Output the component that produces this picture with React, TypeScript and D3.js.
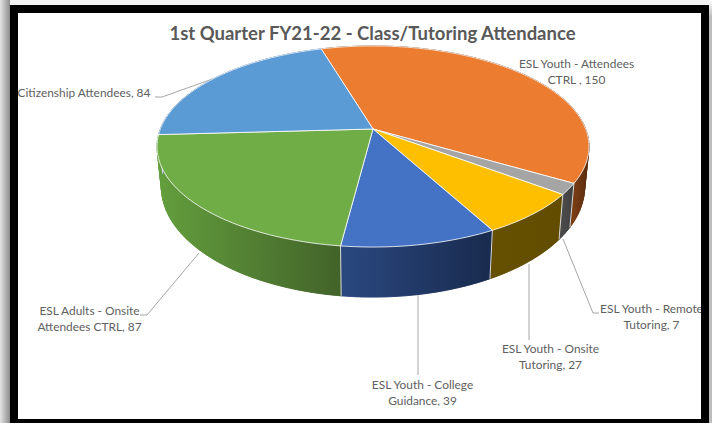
import React from "react"
import * as d3 from "d3"

const categories = [
    "ESL Youth - Attendees CTRL ",
    "ESL Youth - Remote Tutoring",
    "ESL Youth - Onsite Tutoring",
    "ESL Youth - College Guidance",
    "ESL Adults - Onsite Attendees CTRL",
    "Citizenship Attendees",
]
const values = [150, 7, 27, 39, 87, 84]
const title = "1st Quarter FY21-22 - Class/Tutoring Attendance"

const topColors = ["#ec7c30", "#a5a5a5", "#fdbf00", "#4472c4", "#70ad47", "#5b9bd5"]
const sideLeft = ["#7a3d14", "#4a4a4a", "#665000", "#2a4880", "#639e3d", "#3a6a9a"]
const sideRight = ["#5e2e10", "#404040", "#614c00", "#192b4e", "#426329", "#3a6a9a"]

// label layout: anchor x, first baseline, how many words go on line one
const labelX = [576.5, 651.5, 550.5, 422.5, 89.5, 84]
const labelY = [68, 313, 353, 389, 315, 97]
const labelBreak = [4, 4, 4, 4, 4, 99]

// leader lines, drawn as polylines
const leaders = [
    [[155, 97], [162, 97], [218, 77]],
    [[140, 315], [147, 315], [199, 253]],
    [[418, 295], [418, 375]],
    [[529, 264], [529, 340]],
    [[563, 239], [593, 313], [599, 313]],
]

const width = 712
const height = 423

// perspective pie: apex, radii and foreshortening
const cx = 373
const cy = 129
const rx = 212.7
const ry = 97.5
const k = 0.174
const startDeg = -16.5

// top rim, then the bottom rim is the same circle shifted and scaled
const rimTop = (a: number): [number, number] => {
    const u = Math.sin(a)
    const v = -Math.cos(a)
    const w = 1 - k * v
    return [cx + (rx * u) / w, cy + (ry * v) / w]
}
const rimBottom = (a: number): [number, number] => {
    const [x, y] = rimTop(a)
    return [cx + (x - cx) * 0.98, cy + 38.7 + (y - cy) * 1.096]
}

const samples = (a0: number, a1: number) => {
    const n = Math.max(2, Math.ceil((a1 - a0) / 0.03))
    return d3.range(n + 1).map(i => a0 + ((a1 - a0) * i) / n)
}

const line = d3.line()

export default function App() {
    const start = (startDeg * Math.PI) / 180
    const arcs = d3.pie<number>().sort(null).startAngle(start).endAngle(start + 2 * Math.PI)(values)

    const tops = arcs.map(d => {
        const angles = samples(d.startAngle, d.endAngle)
        return line([[cx, cy], ...angles.map(rimTop)] as [number, number][]) + "Z"
    })
    const walls = arcs.map(d => {
        const angles = samples(d.startAngle, d.endAngle)
        return line([...angles.map(rimTop), ...angles.slice().reverse().map(rimBottom)]) + "Z"
    })
    // small quads under the wall, they close the notch where the rims part at the far left and right
    const quads = arcs.map(d => {
        const angles = samples(d.startAngle, d.endAngle)
        return angles.slice(1).map((a, j) => {
            const b = angles[j]
            return line([rimTop(b), rimTop(a), rimBottom(a), rimBottom(b)]) + "Z"
        })
    })
    // x extent of each side's visible front part, for its gradient
    const extents = arcs.map(d => {
        const a0 = Math.max(d.startAngle, Math.PI / 2)
        const a1 = Math.min(d.endAngle, (3 * Math.PI) / 2)
        const xs = [a0, a1].map(a => rimTop(a)[0])
        return [d3.min(xs) as number, d3.max(xs) as number]
    })

    return (
        <svg
            width={width}
            height={height}
            style={{ position: "fixed", left: 0, top: 0, background: "#fff" }}
        >
            <defs>
                <linearGradient id="shadowLeft" x1="0" x2="1" y1="0" y2="0">
                    <stop offset="0%" stopColor="#e4e4e4" />
                    <stop offset="100%" stopColor="#8c8c8c" />
                </linearGradient>
                <linearGradient id="shadowRight" x1="0" x2="0" y1="0" y2="1">
                    <stop offset="0%" stopColor="#ffffff" />
                    <stop offset="4%" stopColor="#bdbdbd" />
                    <stop offset="100%" stopColor="#bdbdbd" />
                </linearGradient>
                <clipPath id="inner">
                    <rect x={18} y={13} width={683} height={406} />
                </clipPath>
                {arcs.map((d, i) => (
                    <linearGradient
                        key={i}
                        id={"side" + i}
                        gradientUnits="userSpaceOnUse"
                        x1={extents[i][0]}
                        x2={extents[i][1]}
                        y1={0}
                        y2={0}
                    >
                        <stop offset="0%" stopColor={sideLeft[i]} />
                        <stop offset="100%" stopColor={sideRight[i]} />
                    </linearGradient>
                ))}
            </defs>

            <rect x={0} y={0} width={10} height={height} fill="url(#shadowLeft)" />
            <rect x={10} y={0} width={699} height={5} fill="#f2f2f2" />
            <rect x={709} y={0} width={3} height={height} fill="url(#shadowRight)" />
            <rect x={10} y={5} width={699} height={418} fill="#000" />
            <rect x={18} y={13} width={683} height={406} fill="#fff" />

            <g clipPath="url(#inner)">
                <text
                    x={372.5}
                    y={40}
                    textAnchor="middle"
                    fontFamily="Lato"
                    fontWeight={700}
                    fontSize={18.5}
                    fill="#595959"
                >
                    {title}
                </text>

                {leaders.map((pts, i) => (
                    <path key={i} d={line(pts as [number, number][]) as string} fill="none" stroke="#a6a6a6" strokeWidth={1} />
                ))}

                {quads.map((qs, i) => (
                    <g key={i} fill={`url(#side${i})`} stroke={`url(#side${i})`} strokeWidth={0.6}>
                        {qs.map((q, j) => (
                            <path key={j} d={q} />
                        ))}
                    </g>
                ))}
                {walls.map((p, i) => (
                    <path key={i} d={p} fill={`url(#side${i})`} stroke={`url(#side${i})`} strokeWidth={0.6} />
                ))}
                {arcs.map((d, i) => (
                    <path
                        key={i}
                        d={line([rimTop(d.startAngle), rimBottom(d.startAngle)]) as string}
                        stroke="#d9d9d9"
                        strokeWidth={1}
                    />
                ))}
                {tops.map((p, i) => (
                    <path key={i} d={p} fill={topColors[i]} stroke="#fff" strokeWidth={0.8} strokeLinejoin="round" />
                ))}

                {categories.map((c, i) => {
                    const words = c.split(" ")
                    const first = words.slice(0, labelBreak[i]).join(" ")
                    const rest = words.slice(labelBreak[i]).join(" ")
                    const single = labelBreak[i] > words.length
                    return (
                        <text
                            key={c}
                            x={labelX[i]}
                            y={labelY[i]}
                            textAnchor="middle"
                            fontFamily="Lato"
                            fontSize={11.9}
                            fill="#606060"
                        >
                            {single ? (
                                `${first}, ${values[i]}`
                            ) : (
                                <>
                                    <tspan x={labelX[i]}>{first}</tspan>
                                    <tspan x={labelX[i]} dy={16}>{`${rest}, ${values[i]}`}</tspan>
                                </>
                            )}
                        </text>
                    )
                })}
            </g>
        </svg>
    )
}
